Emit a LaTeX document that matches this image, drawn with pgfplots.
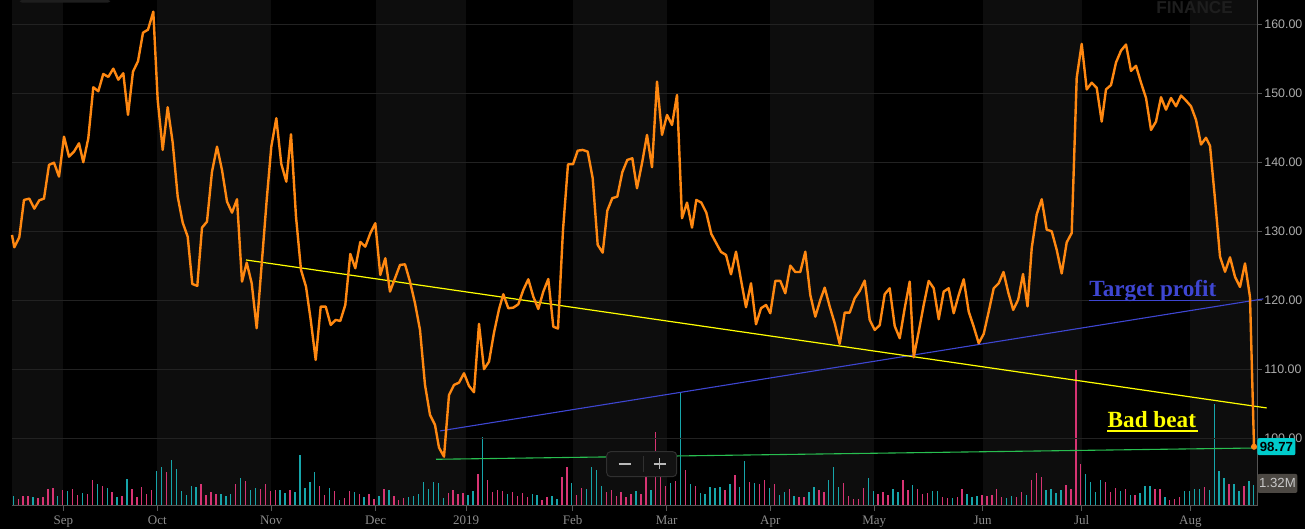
\documentclass[border=0pt]{standalone}
\usepackage{pgfplots}
\pgfplotsset{compat=1.18}
\usepackage{pgfplotstable}
\usepackage{fontspec}
\setmainfont{Liberation Serif}
\newfontfamily\arial{Liberation Sans}
\definecolor{bandc}{RGB}{13,13,13}
\definecolor{gridc}{RGB}{34,34,34}
\definecolor{axisc}{RGB}{85,85,85}
\definecolor{ylabc}{RGB}{172,172,172}
\definecolor{xlabc}{RGB}{140,140,140}
\definecolor{pricec}{RGB}{255,136,17}
\definecolor{tealc}{RGB}{22,165,170}
\definecolor{pinkc}{RGB}{215,52,115}
\definecolor{yellowc}{RGB}{255,255,0}
\definecolor{bluec}{RGB}{62,70,210}
\definecolor{greenc}{RGB}{40,190,80}
\definecolor{lastc}{RGB}{0,204,204}
\definecolor{volboxc}{RGB}{76,72,67}
\definecolor{volboxt}{RGB}{200,200,200}
\definecolor{wmc}{RGB}{30,30,30}
\definecolor{ctrlc}{RGB}{18,18,18}
\definecolor{ctrlb}{RGB}{48,48,48}
\definecolor{ctrls}{RGB}{185,185,185}

\pgfplotstableread{
i v
1 31
5 28
10 31
12 46
15 40
18 67
20 55
22 28
24 82
30 106
31 118
33 139
34 112
35 46
36 34
37 61
38 58
43 37
44 31
45 37
47 85
49 49
50 55
55 49
56 40
58 43
59 154
60 55
61 73
62 103
65 55
67 19
70 43
72 28
75 31
77 49
81 28
82 31
83 37
84 73
85 52
86 73
87 70
88 25
93 34
94 46
96 207
101 37
106 37
107 34
110 31
111 22
114 70
117 52
118 118
119 109
120 61
127 46
130 49
134 70
136 339
138 67
140 40
141 37
142 58
143 55
144 58
146 67
148 58
149 136
151 70
154 55
156 34
157 43
159 31
162 43
163 58
166 79
167 118
168 58
174 85
175 46
179 52
180 43
183 64
187 46
188 46
191 25
194 37
195 28
196 31
202 25
203 31
206 34
210 49
211 52
212 40
213 49
218 97
219 73
220 43
221 79
225 46
227 34
229 40
230 61
231 61
234 28
238 46
239 46
240 52
241 52
243 49
244 306
245 106
246 85
248 67
249 46
251 76
252 64
}\tealvol

\pgfplotstableread{
i v
2 21
3 31
4 31
6 25
7 28
8 52
9 55
11 49
13 52
14 34
16 37
17 79
19 61
21 43
23 31
25 52
26 28
27 58
28 37
29 49
32 103
39 67
40 34
41 43
42 37
46 67
48 76
51 52
52 67
53 46
54 49
57 49
63 61
64 34
66 46
68 25
69 46
71 37
73 37
74 22
76 52
78 31
79 19
80 25
89 40
90 49
91 37
92 40
95 97
97 79
98 43
99 49
100 46
102 43
103 31
104 40
105 28
108 19
109 28
112 88
113 118
115 34
116 55
121 43
122 49
123 31
124 43
125 28
126 37
128 37
129 88
131 222
132 88
133 61
135 76
137 109
139 61
145 49
147 94
150 73
152 67
153 79
155 67
158 52
160 28
161 28
164 49
165 43
169 70
170 31
171 22
172 22
173 55
176 37
177 43
178 34
181 79
182 49
184 52
185 37
186 40
189 28
190 25
192 28
193 52
197 34
198 31
199 34
200 52
201 28
204 28
205 43
207 79
208 100
209 88
214 64
215 52
216 408
217 127
222 73
223 43
224 55
226 52
228 34
232 52
233 52
235 19
236 22
237 28
242 58
247 67
250 61
}\pinkvol

\pgfplotstableread{
x y
12 129.47
14.3 127.68
19.3 129.13
24 134.54
29.3 134.73
34.3 133.28
39.3 134.49
44 134.73
49 139.62
54 139.94
59 137.92
64 143.71
69 140.81
74 141.54
79 142.75
83.3 140.00
88.3 143.48
93.3 150.87
98.3 150.29
103.3 152.80
108.3 152.37
113.3 153.57
118.3 151.97
123.3 152.90
128 146.86
133 153.14
138 154.64
143 158.78
148 159.22
153.3 161.83
157.7 149.03
162.7 141.79
167.7 147.97
172.7 142.84
177.7 135.02
182.7 131.25
187.7 129.22
192.3 122.36
197.3 122.08
202 130.52
207 131.39
212 138.64
217 142.26
222 138.88
227 134.30
232 132.70
237 134.64
242 122.70
246.7 125.45
251.7 122.46
256.7 115.94
266.7 134.54
271.3 142.26
276.3 146.38
281.3 139.75
286.3 137.19
291 144.06
296 132.11
301 124.40
306 121.97
310.7 117.15
315.7 111.35
320.7 119.08
325.7 119.08
330.7 116.42
335.7 117.15
340.3 117.00
345.3 119.32
350.3 126.71
355.3 124.64
360.3 128.45
365.3 127.77
370.3 129.71
375.3 131.16
380.3 123.67
385.3 126.08
390 121.25
395 123.19
400 125.12
405 125.21
410 122.70
415 119.57
420 115.70
425 107.73
430 103.38
435 101.93
439 98.64
444 97.33
449 106.27
454 107.73
459 108.06
464 109.42
469 107.58
474 106.67
479 116.57
484 110.01
489 111.10
494 115.31
499 118.69
503.3 120.87
508.3 118.84
513.3 118.93
518.3 119.42
523.3 121.49
528.3 123.04
533.3 120.52
538.3 118.74
543.3 121.25
548.3 123.08
553.3 116.17
558 115.89
563 130.19
568 139.71
573 139.71
577.7 141.68
582.7 141.79
587.7 141.54
592.7 137.68
597.7 128.02
602.7 126.90
607.3 132.98
612.3 134.79
617.3 135.02
622.3 138.55
627.3 140.34
632.3 140.58
637 136.23
642 139.85
647 143.96
652 139.28
657 151.69
662 143.96
667 146.86
672 145.41
677 149.75
682 131.89
687 134.15
692 130.52
696.3 134.54
701.3 134.15
706.3 132.70
711.3 129.61
716 128.34
721 127.00
726 126.57
731 123.76
736 127.04
741 122.94
746 118.99
751 122.46
756 116.52
761 118.84
766 119.32
770.3 118.12
775.3 122.80
780.3 122.80
785.3 121.01
790.3 125.02
795.3 124.10
800.3 124.10
805.3 127.04
810.3 120.76
815.3 117.62
820.3 120.04
824.7 121.83
829.7 119.08
834.7 116.67
839.7 113.67
844.7 118.21
849.7 118.21
854.7 120.29
859.7 121.35
864.7 122.85
869.7 117.15
874.7 115.70
879.7 116.38
884.7 120.87
889.7 121.74
894.7 116.27
899.7 114.49
904.7 118.84
909.7 122.70
913.7 111.74
918.7 115.45
923.7 119.32
928.7 122.80
933.7 121.74
938.7 117.25
943.7 121.25
948.7 121.74
953.7 118.12
958.7 120.76
963.7 123.04
968.7 118.35
973.7 116.17
978.7 113.77
983.7 115.12
988.7 118.35
993.7 121.74
998.7 122.46
1003.5 124.10
1008.3 121.10
1013.2 118.60
1018.2 120.10
1023 123.80
1027.5 119.10
1031.7 127.55
1036.7 132.44
1041.7 134.64
1046.7 130.23
1051.7 130.00
1056.7 127.30
1061.7 123.88
1066.7 128.39
1071.7 129.75
1076.7 152.26
1081.7 157.16
1086.7 150.56
1091.7 151.53
1096.7 150.79
1101.7 145.90
1106 150.56
1111 151.19
1116 154.46
1121 156.18
1126 157.06
1131 153.24
1136 153.98
1141 151.53
1146 149.32
1151 144.68
1156 145.90
1161 149.43
1166 147.62
1171 149.32
1176 148.11
1181 149.68
1186 148.94
1191 148.11
1196 146.15
1201 142.57
1206 143.55
1210 142.38
1215 134.64
1220 126.33
1225 124.13
1230 126.22
1235 123.39
1240 121.92
1245 125.34
1250 120.45
1254 98.77
}\price

\begin{document}
\begin{tikzpicture}
\fill[black] (-6pt,-11.5pt) rectangle (646.5pt,253pt);
% layer 1: month bands and volume
\begin{axis}[scale only axis, width=622.5pt, height=253pt,
  xmin=12, xmax=1257, ymin=0, ymax=1519, hide axis, clip=false]
  \fill[bandc] (axis cs:12,0) rectangle (axis cs:63.3,1519);
  \fill[bandc] (axis cs:157.3,0) rectangle (axis cs:271.3,1519);
  \fill[bandc] (axis cs:375.7,0) rectangle (axis cs:466,1519);
  \fill[bandc] (axis cs:572.7,0) rectangle (axis cs:666.7,1519);
  \fill[bandc] (axis cs:770.3,0) rectangle (axis cs:874.3,1519);
  \fill[bandc] (axis cs:982.7,0) rectangle (axis cs:1081.7,1519);
  \fill[bandc] (axis cs:1190.3,0) rectangle (axis cs:1257,1519);
  \addplot[ycomb, draw=tealc, line width=0.7pt, mark=none]
    table[x expr={13.3+4.942*(\thisrow{i}-1)}, y=v] {\tealvol};
  \addplot[ycomb, draw=pinkc, line width=0.7pt, mark=none]
    table[x expr={13.3+4.942*(\thisrow{i}-1)}, y=v] {\pinkvol};
\end{axis}
% layer 2: price axis
\begin{axis}[scale only axis, width=622.5pt, height=253pt,
  xmin=12, xmax=1257, ymin=90.18, ymax=163.52,
  clip=false,
  axis x line*=bottom, axis y line*=right,
  axis line style={draw=axisc, line width=0.5pt, -},
  xtick={63.3,157.3,271.3,375.7,466,572.7,666.7,770.3,874.3,982.7,1081.7,1190.3},
  xticklabels={Sep,Oct,Nov,Dec,2019,Feb,Mar,Apr,May,Jun,Jul,Aug},
  ytick={100,110,120,130,140,150,160},
  tick align=outside,
  major tick length=2.3pt,
  tick style={draw=axisc, line width=0.5pt},
  ymajorgrids, major grid style={draw=gridc, line width=0.5pt},
  xticklabel style={font=\fontsize{6.5}{7}\selectfont, text=xlabc, anchor=base, inner sep=0pt, yshift=-7.2pt},
  yticklabel style={font=\arial\fontsize{6.2}{7}\selectfont, text=ylabc, anchor=west, inner sep=0pt, xshift=1.2pt,
    /pgf/number format/fixed, /pgf/number format/fixed zerofill, /pgf/number format/precision=2},
  /pgf/number format/assume math mode=true,
]
  % faint artefacts at the top
  \fill[wmc, rounded corners=1pt] (axis cs:20,163.52) rectangle (axis cs:110,163.15);
  \node[anchor=base west, inner sep=0pt, font=\arial\bfseries\fontsize{8.6}{9}\selectfont, text=wmc] at (axis cs:1156,161.59) {FINANCE};
  % trend lines
  \addplot[greenc, line width=0.55pt, mark=none] coordinates {(436,96.95) (1256.7,98.59)};
  \addplot[bluec, line width=0.55pt, mark=none] coordinates {(440,101.06) (1263.3,120.2)};
  \addplot[yellowc, line width=0.6pt, mark=none] coordinates {(246,125.84) (1266.7,104.39)};
  % price
  \addplot[pricec, line width=1.2pt, line join=round, mark=none] table {\price};
  \addplot[only marks, mark=*, mark size=1.3pt, color=pricec] coordinates {(1254,98.77)};
  % annotations
  \node[anchor=base west, inner sep=0pt, font=\bfseries\fontsize{11.6}{12}\selectfont, text=bluec] at (axis cs:1089,120.48) {Target profit};
  \draw[bluec, line width=0.6pt] (axis cs:1089,119.97) -- (axis cs:1220,119.97);
  \node[anchor=base west, inner sep=0pt, font=\bfseries\fontsize{11.6}{12}\selectfont, text=yellowc] at (axis cs:1107.3,101.49) {Bad beat};
  \draw[yellowc, line width=0.6pt] (axis cs:1107.3,101.06) -- (axis cs:1198,101.06);
  % last price and volume boxes
  \node[fill=lastc, rounded corners=1pt, anchor=west, minimum width=19pt, minimum height=8.5pt, inner sep=0pt,
        font=\arial\bfseries\fontsize{6.6}{7}\selectfont, text=black] at (axis cs:1257,98.77) {98.77};
  \node[fill=volboxc, rounded corners=1pt, anchor=west, minimum width=20pt, minimum height=9.5pt, inner sep=0pt,
        font=\arial\fontsize{6.6}{7}\selectfont, text=volboxt] at (axis cs:1257,93.45) {1.32M};
  % zoom control
  \filldraw[fill=ctrlc, draw=ctrlb, line width=0.5pt, rounded corners=2pt] (axis cs:606.7,98.06) rectangle (axis cs:676.7,94.43);
  \draw[ctrls, line width=0.7pt] (axis cs:618.5,96.27) -- (axis cs:630.5,96.27);
  \draw[ctrls, line width=0.7pt] (axis cs:653.5,96.27) -- (axis cs:665.5,96.27) (axis cs:659.5,97.07) -- (axis cs:659.5,95.48);
  \draw[ctrlb, line width=0.5pt] (axis cs:643.3,97.43) -- (axis cs:643.3,95.12);
\end{axis}
\pgfresetboundingbox
\useasboundingbox (-6pt,-11.5pt) rectangle (646.5pt,253pt);
\end{tikzpicture}
\end{document}
